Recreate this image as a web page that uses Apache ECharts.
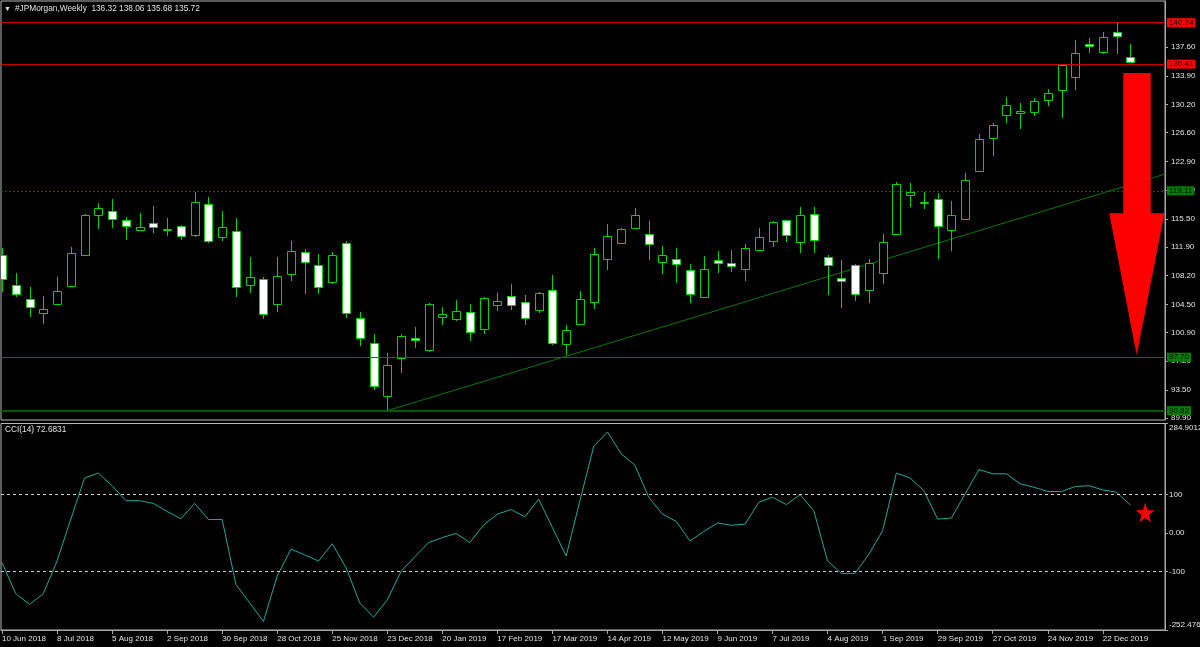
<!DOCTYPE html>
<html><head><meta charset="utf-8">
<script src="https://cdn.jsdelivr.net/npm/echarts@6/dist/echarts.min.js"></script>
<style>html,body{margin:0;padding:0;background:#000}#c{width:1200px;height:647px}</style>
</head><body><div id="c"></div>
<script>
// ---- data ----
const symbolName = '#JPMorgan,Weekly';
const tickLabels = ['10 Jun 2018','8 Jul 2018','5 Aug 2018','2 Sep 2018','30 Sep 2018','28 Oct 2018','25 Nov 2018','23 Dec 2018','20 Jan 2019','17 Feb 2019','17 Mar 2019','14 Apr 2019','12 May 2019','9 Jun 2019','7 Jul 2019','4 Aug 2019','1 Sep 2019','29 Sep 2019','27 Oct 2019','24 Nov 2019','22 Dec 2019'];
const open  = [110.85,106.99,105.23,103.43,104.51,106.86,110.85,115.96,116.51,115.32,114.07,115.01,114.11,114.62,113.42,117.41,113.21,113.98,106.95,107.76,104.51,108.41,111.20,109.53,107.42,112.36,102.71,99.57,92.75,97.56,100.13,98.63,102.88,102.66,103.56,101.37,104.46,105.54,104.77,103.78,106.35,99.44,101.97,104.85,110.38,112.40,114.29,113.55,110.00,110.34,108.88,105.41,110.21,109.79,109.01,111.53,112.69,115.32,112.52,116.13,110.56,107.93,109.57,106.35,108.50,113.51,118.53,117.54,118.10,114.03,115.45,121.70,125.87,128.83,129.08,129.21,130.79,132.08,133.75,137.96,137.01,139.50,136.32];
const high  = [111.71,108.50,106.70,105.58,108.06,111.92,116.13,117.50,118.06,115.70,116.26,117.15,115.57,114.70,119.00,118.28,116.55,115.57,110.56,108.06,110.56,112.69,111.66,111.02,111.24,112.65,103.52,100.69,98.20,100.69,101.59,104.72,104.16,105.06,104.51,105.49,105.92,107.12,105.71,106.05,108.28,101.85,106.22,111.71,114.84,114.36,116.94,115.22,112.05,111.71,109.69,110.72,111.37,111.50,112.27,114.36,115.20,115.40,117.07,116.99,110.81,110.21,109.70,110.34,113.55,120.21,120.15,119.00,118.79,117.80,121.36,126.42,127.80,131.14,130.45,131.01,132.21,135.40,138.51,138.73,139.54,140.74,138.06];
const low   = [106.13,105.41,102.84,101.97,104.40,106.70,110.72,114.16,114.36,112.78,113.98,113.64,113.30,112.74,113.13,112.36,112.69,105.49,106.00,102.58,103.52,107.55,105.87,105.84,107.16,102.79,99.18,93.48,90.82,95.71,98.85,98.41,101.85,102.40,99.83,100.73,103.65,103.74,101.85,103.43,99.27,97.99,101.80,103.90,108.92,112.30,114.16,110.21,108.41,107.29,104.71,105.30,108.50,108.70,107.55,111.40,111.92,112.56,111.15,111.15,105.71,104.07,104.97,104.64,107.08,113.42,117.07,116.73,110.30,111.41,115.30,121.60,123.63,127.87,127.06,128.74,130.06,128.44,132.08,136.80,136.71,136.71,135.68];
const close = [107.73,105.80,104.12,103.87,106.22,111.15,116.00,116.86,115.52,114.54,114.42,114.42,114.20,113.33,117.63,112.65,114.42,106.77,107.98,103.22,108.11,111.37,110.00,106.70,110.89,103.35,100.21,93.98,96.70,100.47,99.88,104.51,103.22,103.69,100.99,105.36,104.90,104.42,102.79,105.92,99.49,101.24,105.15,111.02,113.33,114.24,116.00,112.31,110.82,109.66,105.80,109.01,109.86,109.44,111.71,113.21,115.13,113.42,116.04,112.74,109.53,107.55,105.80,109.79,112.49,119.99,119.00,117.63,114.54,115.96,120.54,125.74,127.54,130.19,129.34,130.67,131.66,135.30,136.84,137.74,138.86,138.99,135.72];
const cci = [-77,-158,-186,-158,-73,36,143,156,123,84,84,77,56,37,77,35,35,-134,-182,-230,-112,-42,-57,-73,-28,-90,-182,-219,-174,-100,-62,-25,-12,-1,-25,21,49,61,42,88,14,-60,84,225,263,206,176,93,49,30,-21,4,26,20,23,80,93,74,100,58,-73,-105,-105,-55,6,156,143,110,36,39,102,165,154,154,128,119,108,108,121,123,112,106,72.6831];
const cciLabel = 'CCI(14) 72.6831';
const priceTicks = [89.90,93.50,97.20,100.90,104.50,108.20,111.90,115.50,119.20,122.90,126.60,130.20,133.90,137.60];
const cciTicks = [284.9012,100,0,-100,-252.476];
const cciLevels = [100,-100];
const levels = [140.74,135.41,119.11,97.70,90.82];
const trendline = [[28,90.82],[84.52,121.26]];
const arrowPoints = [[81.49,134.27],[83.48,134.27],[83.48,116.22],[84.48,116.22],[82.46,97.99],[80.47,116.22],[81.49,116.22]];
const starPoint = [83.08,53];

// ---- styles ----
const FONT = 'Liberation Sans';
const FS = 8;
const GREEN = '#00d400';
const TXT = '#e2e2e2';
const AXIS = '#a8a8a8';
const levelStyles = [
  {line:{color:'#c80000',width:1,type:'solid'}, bg:'#ff0000'},
  {line:{color:'#c80000',width:1,type:'solid'}, bg:'#ff0000'},
  {line:{color:'#006400',width:1,type:[2,2]}, bg:'#008000'},
  {line:{color:'#007800',width:1,type:'solid'}, bg:'#008000'},
  {line:{color:'#005a00',width:2,type:'solid'}, bg:'#008000'}
];
const XMIN = -0.0727, XMAX = 84.52;

const candleData = open.map((o,i)=>[i,o,close[i],low[i],high[i]]);

function renderCandle(params, api){
  const x = api.value(0), o = api.value(1), c = api.value(2), l = api.value(3), h = api.value(4);
  const po = api.coord([x,o]), pc = api.coord([x,c]), pl = api.coord([x,l]), ph = api.coord([x,h]);
  const cx = Math.round(po[0]) + 0.5;
  const top = Math.round(Math.min(po[1],pc[1])), bot = Math.round(Math.max(po[1],pc[1]));
  const half = 4;
  const ch = [
    {type:'line', shape:{x1:cx,y1:Math.round(ph[1]),x2:cx,y2:top}, style:{stroke:GREEN,lineWidth:1}},
    {type:'line', shape:{x1:cx,y1:bot,x2:cx,y2:Math.round(pl[1])}, style:{stroke:GREEN,lineWidth:1}}
  ];
  if (bot - top < 1) {
    ch.push({type:'line', shape:{x1:cx-half,y1:top+0.5,x2:cx+half,y2:top+0.5}, style:{stroke:GREEN,lineWidth:1}});
  } else {
    ch.push({type:'rect', shape:{x:cx-half,y:top+0.5,width:2*half,height:bot-top}, style:{fill:c>=o?'#000':'#fff',stroke:GREEN,lineWidth:1}});
  }
  return {type:'group', children:ch};
}

const chart = echarts.init(document.getElementById('c'), null, {renderer:'canvas'});
const n = open.length - 1;
chart.setOption({
  backgroundColor:'#000',
  animation:false,
  textStyle:{fontFamily:FONT},
  title:[
    {text:'▼', left:4, top:6, padding:0, textStyle:{color:TXT,fontSize:7,fontFamily:FONT,fontWeight:'normal'}},
    {text: symbolName + '  ' + [open[n],high[n],low[n],close[n]].map(v=>v.toFixed(2)).join(' '), left:15, top:5, padding:0,
     textStyle:{color:TXT,fontSize:8.3,fontFamily:FONT,fontWeight:'normal'}},
    {text: cciLabel, left:5, top:426, padding:0, textStyle:{color:TXT,fontSize:8.3,fontFamily:FONT,fontWeight:'normal'}}
  ],
  grid:[
    {left:1, right:35, top:1, height:419, show:true, borderColor:'#b8b8b8', borderWidth:1, backgroundColor:'#000', outerBoundsMode:'none', containLabel:false},
    {left:1, right:35, top:423.5, height:206.5, show:true, borderColor:'#b8b8b8', borderWidth:1, backgroundColor:'#000', outerBoundsMode:'none', containLabel:false}
  ],
  xAxis:[
    {type:'value', gridIndex:0, min:XMIN, max:XMAX, show:false, axisLine:{onZero:false}},
    {type:'value', gridIndex:1, min:XMIN, max:XMAX,
     axisLine:{show:true,onZero:false,lineStyle:{color:AXIS}},
     axisTick:{show:true, customValues:tickLabels.map((t,k)=>k*4), length:4, lineStyle:{color:AXIS}},
     axisLabel:{show:true, customValues:tickLabels.map((t,k)=>k*4), formatter:v=>tickLabels[Math.round(v/4)],
       align:'left', margin:5, color:TXT, fontSize:FS, fontFamily:FONT},
     splitLine:{show:false}}
  ],
  yAxis:[
    {type:'value', gridIndex:0, position:'right', min:89.62, max:143.53,
     axisLine:{show:true,onZero:false,lineStyle:{color:AXIS}},
     axisTick:{show:true, customValues:priceTicks, length:3, lineStyle:{color:AXIS}},
     axisLabel:{show:true, customValues:priceTicks, formatter:v=>v.toFixed(2), margin:6, color:TXT, fontSize:FS, fontFamily:FONT},
     splitLine:{show:false}},
    {type:'value', gridIndex:1, position:'right', min:-252.476, max:284.9012,
     axisLine:{show:true,onZero:false,lineStyle:{color:AXIS}},
     axisTick:{show:true, customValues:cciTicks, length:3, lineStyle:{color:AXIS}},
     axisLabel:{show:true, customValues:cciTicks, margin:4, color:TXT, fontSize:FS, fontFamily:FONT,
       formatter:v=>{
         if (v > 200) return '{t|' + v + '}';
         if (v < -200) return '{b|' + v + '}';
         return v === 0 ? '0.00' : String(v);
       },
       rich:{t:{padding:[8,0,0,0],color:TXT,fontSize:FS,fontFamily:FONT}, b:{padding:[0,0,10,0],color:TXT,fontSize:FS,fontFamily:FONT}}},
     splitLine:{show:false}}
  ],
  series:[
    {type:'line', name:'trend', xAxisIndex:0, yAxisIndex:0, data:trendline, showSymbol:false, symbol:'none',
     lineStyle:{color:'#007a00', width:1}, z:1, silent:true,
     markLine:{symbol:['none','none'], silent:true, animation:false,
       data: levels.map((v,k)=>({yAxis:v, lineStyle:levelStyles[k].line,
         label:{show:true, position:'end', distance:2, formatter:v.toFixed(2), backgroundColor:levelStyles[k].bg,
           color:'#000', padding:[1,2,0,2], fontSize:FS, fontFamily:FONT}}))}},
    {type:'custom', name:'candles', xAxisIndex:0, yAxisIndex:0, data:candleData, encode:{x:0,y:[1,2,3,4]},
     renderItem:renderCandle, clip:true, z:3, silent:true},
    {type:'custom', name:'arrow', xAxisIndex:0, yAxisIndex:0, data:[arrowPoints[0]], encode:{x:0,y:1}, clip:true, z:5, silent:true,
     renderItem:(params, api)=>({type:'polygon', shape:{points:arrowPoints.map(p=>api.coord(p))}, style:{fill:'#ff0000'}})},
    {type:'line', name:'CCI', xAxisIndex:1, yAxisIndex:1, data:cci.map((v,i)=>[i,v]), showSymbol:false, symbol:'none',
     lineStyle:{color:'#20a8a0', width:1}, z:3, silent:true,
     markLine:{symbol:['none','none'], silent:true, animation:false, label:{show:false},
       lineStyle:{color:'#d0d0d0', width:1, type:[3,3]}, data:cciLevels.map(v=>({yAxis:v}))}},
    {type:'scatter', name:'star', xAxisIndex:1, yAxisIndex:1, data:[starPoint], z:6, silent:true,
     symbol:'path://M50,0 L61.8,35.1 L98.9,35.1 L68.9,56.7 L80.2,91.9 L50,70 L19.8,91.9 L31.1,56.7 L1.1,35.1 L38.2,35.1 Z',
     symbolSize:[19,20], itemStyle:{color:'#ff0000', opacity:1}}
  ]
});
</script>
</body></html>
